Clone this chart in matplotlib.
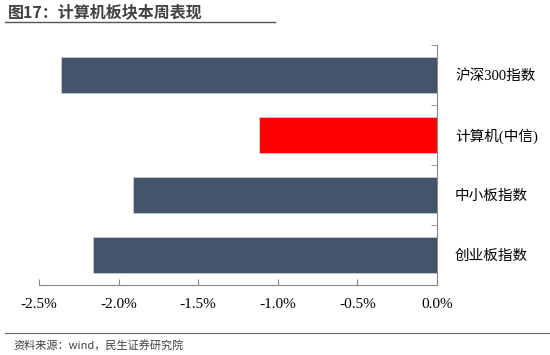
import matplotlib
matplotlib.use("Agg")
import matplotlib.pyplot as plt
from matplotlib.ticker import FuncFormatter

plt.rcParams['font.family'] = ['Liberation Serif', 'Noto Sans CJK SC', 'DejaVu Sans']

# weekly return (%) by index
categories = ['沪深300指数', '计算机(中信)', '中小板指数', '创业板指数']
returns = [-2.36, -1.12, -1.91, -2.16]
colors = ['#44546A', '#FF0000', '#44546A', '#44546A']

fig = plt.figure(figsize=(5.5, 3.55), dpi=100)
ax = fig.add_axes([39 / 550, 1 - 285 / 355, 398 / 550, 240 / 355])

pos = list(range(len(categories)))
ax.barh(pos, returns, height=0.59, color=colors, edgecolor='#d0d4da', linewidth=0.5, zorder=2)

ax.set_xlim(-2.5, 0)
ax.set_ylim(3.5, -0.5)
ax.set_xticks([-2.5, -2.0, -1.5, -1.0, -0.5, 0.0])
ax.xaxis.set_major_formatter(FuncFormatter(lambda v, p: f'{v:.1f}%'))
ax.tick_params(axis='x', direction='in', length=4, color='#888888', labelsize=11, pad=9)

# category labels on the right, boundary ticks on the axis line
ax.yaxis.tick_right()
ax.set_yticks(pos)
ax.set_yticklabels(categories, fontsize=10.5)
ax.set_yticks([-0.5, 0.5, 1.5, 2.5, 3.5], minor=True)
ax.tick_params(axis='y', which='major', length=0, pad=13)
ax.tick_params(axis='y', which='minor', direction='in', length=4, color='#888888')

for s in ['top', 'left']:
    ax.spines[s].set_visible(False)
ax.spines['right'].set_color('#888888')
ax.spines['bottom'].set_color('#888888')

# header and footer
fig.text(8 / 550, 1 - 12 / 355, '图17：计算机板块本周表现', fontsize=11.5, fontweight='bold',
         color='#404040', va='center', family=['Noto Sans CJK SC', 'DejaVu Sans'])
fig.add_artist(plt.Line2D([5 / 550, 275 / 550], [1 - 22 / 355] * 2, color='#555555', linewidth=1))
fig.add_artist(plt.Line2D([5 / 550, 1.0], [1 - 333 / 355] * 2, color='#666666', linewidth=0.8))
fig.text(13 / 550, 1 - 345 / 355, '资料来源：wind，民生证券研究院', fontsize=8,
         color='#404040', va='center', family=['Noto Sans CJK SC', 'DejaVu Sans'])

fig.savefig('out.png', dpi=100)
